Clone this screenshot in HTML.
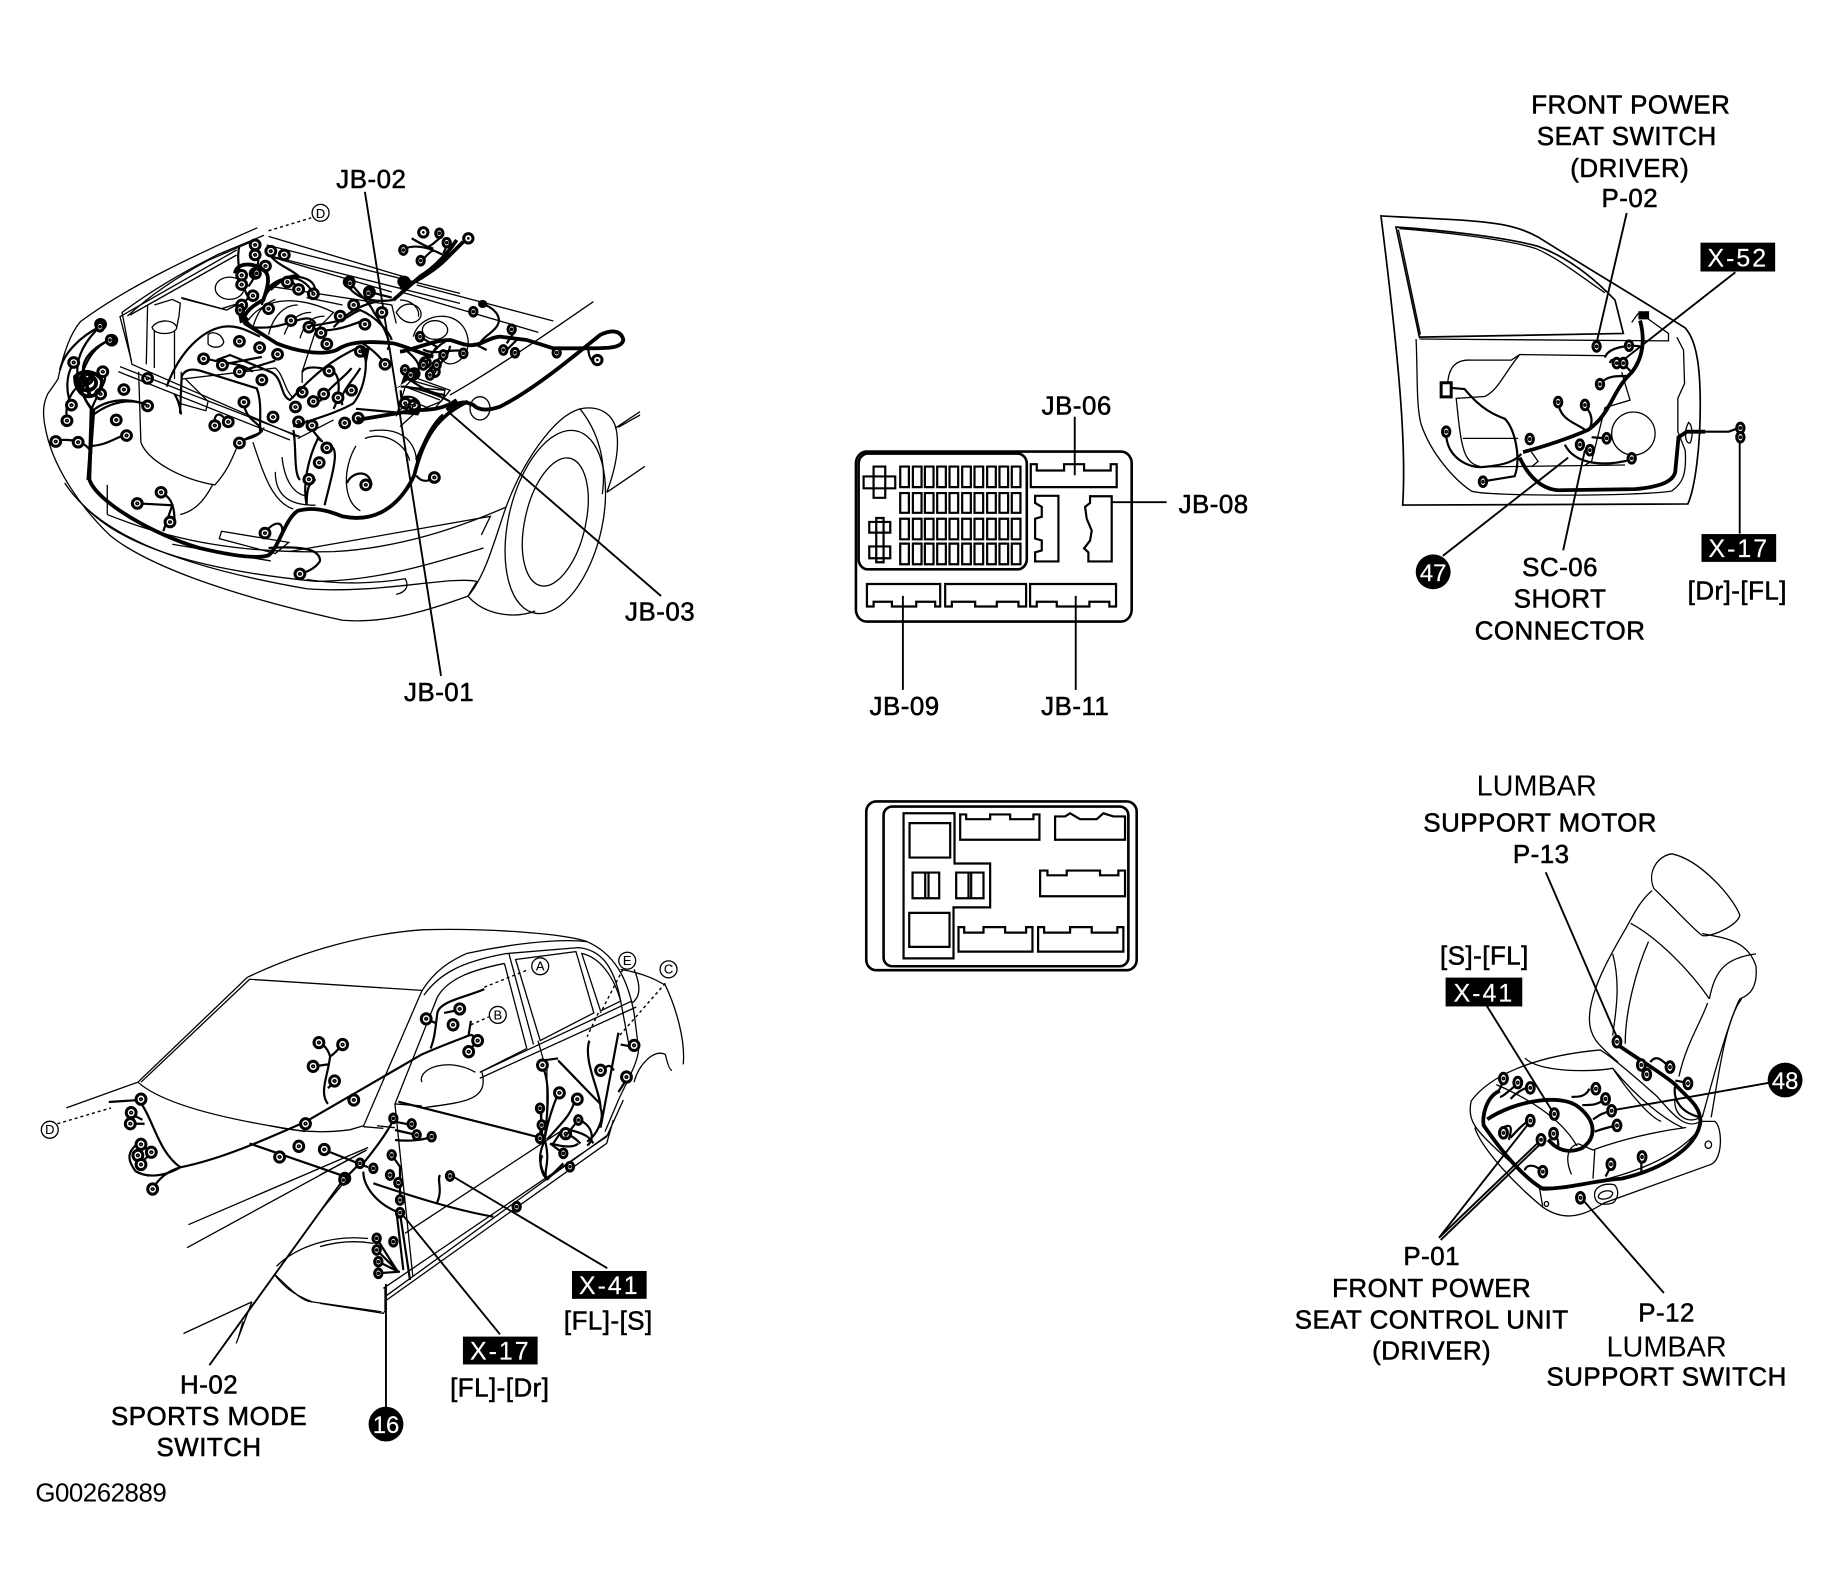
<!DOCTYPE html>
<html><head><meta charset="utf-8"><title>Wiring diagram</title>
<style>
html,body{margin:0;padding:0;background:#fff}
svg{display:block;font-family:"Liberation Sans",sans-serif}
svg *{vector-effect:non-scaling-stroke}
.t{fill:none;stroke:#000;stroke-width:1.3}
.m{fill:none;stroke:#000;stroke-width:2.2}
.w{fill:none;stroke:#000;stroke-width:3.8}
.l{fill:none;stroke:#000;stroke-width:1.9}
.b{fill:none;stroke:#000;stroke-width:2.6}
text{fill:#000;font-size:26px;text-anchor:middle;stroke:#000;stroke-width:.55;letter-spacing:.5px}
.n{stroke-width:0;font-size:29px;letter-spacing:0}
.k{fill:#fff;stroke:#fff;stroke-width:.2;font-size:25px;letter-spacing:2px}
.c{font-size:13px;stroke-width:.1;letter-spacing:0}
.g{font-size:26px;text-anchor:start;stroke-width:0;letter-spacing:0}
.d{fill:none;stroke:#000;stroke-width:1.4;stroke-dasharray:3 3}
</style></head>
<body>
<svg width="1848" height="1578" viewBox="0 0 1848 1578" xmlns="http://www.w3.org/2000/svg">
<defs>
<g id="c"><ellipse cx="0" cy="0" rx="11" ry="13" fill="#fff" stroke="#000" stroke-width="3"/><ellipse cx="0" cy="0" rx="3" ry="3" fill="none" stroke="#000" stroke-width="1.6"/></g>
<g id="r"><ellipse cx="0" cy="0" rx="14" ry="14" fill="#fff" stroke="#000" stroke-width="3"/><ellipse cx="0" cy="0" rx="4" ry="4" fill="#000"/></g>
</defs>
<g transform="scale(.9956 .9945)">

<!-- ============ ENGINE BAY ============ -->
<g transform="translate(20,150) scale(.45,.373)">
<g class="t">
<path d="M530 212C400 280 240 370 135 465C110 500 95 560 85 620L62 660C50 690 50 720 60 770C80 870 140 970 200 1040C280 1120 460 1200 720 1270C820 1280 920 1240 1000 1205C1040 1260 1110 1265 1150 1245"/>
<path d="M545 232L440 285C350 340 290 385 228 440L250 580L620 775"/>
<path d="M525 245L420 300C350 345 290 395 240 450"/>
<path d="M555 235L860 345M560 290L830 385"/>
<path d="M285 420L282 580M300 490L300 590M345 490L345 620"/>
<path d="M295 480C310 455 345 460 350 480C350 500 300 505 295 480Z"/>
<path d="M300 420L340 405L358 415L355 450L350 480"/>
<path d="M360 400L450 430L490 415"/>
<ellipse cx="468" cy="375" rx="32" ry="30"/>
<path d="M265 600L270 790C285 840 360 890 435 905C470 860 480 810 490 790C510 770 540 770 545 750"/>
<path d="M430 905C410 950 390 975 358 985"/>
<path d="M520 790C540 860 560 950 610 970"/>
<path d="M360 600L360 620L570 590C590 610 590 650 610 670L620 650M370 620L420 680L415 705L355 685"/>
<path d="M420 500C430 490 450 495 455 520C450 540 425 535 420 525Z"/>
<path d="M510 460C560 380 650 410 700 440L660 490L630 600L630 630"/>
<path d="M560 370L830 420L840 470M640 400L720 420"/>
<path d="M520 480C530 440 540 420 570 405M555 500C565 450 590 420 620 420M590 500C600 465 620 440 650 440M625 510C635 470 650 450 680 450"/>
<path d="M840 440C860 400 900 420 895 450C890 470 860 480 840 440Z"/>
<path d="M850 640L950 650M840 720L860 640L880 615L960 650L940 680L900 700L840 715"/>
<path d="M195 985L195 905M195 985C350 1060 500 1090 700 1085C850 1075 980 1020 1085 965"/>
<path d="M150 970C250 1090 450 1140 660 1165C800 1165 940 1110 1035 1075"/>
<path d="M100 900C170 1030 330 1120 640 1185C800 1200 960 1150 1020 1165L1000 1205"/>
<path d="M445 1050L450 1030L600 1060L570 1090ZM600 1085L1050 990L1030 1040"/>
<path d="M640 1160C720 1175 800 1170 860 1158C870 1180 860 1195 840 1200"/>
<path d="M340 1065L560 1110"/>
<path d="M780 760C860 745 890 800 885 860M750 800C720 860 720 950 760 975M770 780C810 760 860 790 870 840"/>
<path d="M585 830C590 890 610 930 640 935M570 870C570 950 620 960 660 960"/>
<path d="M1330 750C1320 710 1290 690 1250 700C1190 720 1120 850 1085 965C1060 1050 1040 1150 1000 1205"/>
<ellipse cx="1195" cy="1005" rx="105" ry="250" transform="rotate(10 1195 1005)"/>
<ellipse cx="1195" cy="1005" rx="68" ry="175" transform="rotate(10 1195 1005)"/>
<path d="M1250 700C1290 760 1310 840 1300 930"/>
<path d="M1310 925L1395 855M1330 750C1340 800 1330 860 1310 925"/>
<path d="M620 780L700 730"/>
</g>
<path class="l" d="M770 115L940 1420"/>
<path class="d" d="M555 220L650 185"/>
<path class="w" d="M160 700L155 890C170 950 300 1040 400 1075C470 1095 530 1105 555 1095C580 1070 590 1000 620 975C650 965 680 970 720 990C780 1005 840 980 880 880C900 780 930 720 1000 680"/>
<path class="m" d="M160 720C200 680 250 670 285 690M130 620C120 560 150 510 185 470M135 620C150 560 170 530 200 515M160 700C180 640 200 620 185 600M150 620C110 650 100 690 105 730M155 800C190 800 210 780 235 770M160 820C150 790 120 780 80 785M135 630C140 690 170 700 160 720M120 580C105 600 100 650 115 690"/>
<circle class="w" cx="150" cy="630" r="20"/>
<path class="m" d="M410 560C440 580 490 570 520 600M455 580L540 560M490 600L570 570M360 715C355 680 350 670 345 660M500 680C500 730 540 740 540 760C525 780 500 780 490 790M435 745C430 710 450 705 460 735"/>
<path class="m" d="M630 600C640 580 680 590 700 600C720 620 710 680 700 700M720 690C710 660 740 630 760 590M670 680C690 640 730 610 740 590M640 730C660 780 690 800 665 780C645 830 630 900 640 960M680 800C720 790 700 860 680 960M660 890C650 900 640 900 640 960"/>
<path class="m" d="M730 900C740 870 780 860 785 905M885 880C900 905 920 890 925 885M345 1000C345 950 330 930 310 925M320 1030L340 960L265 955"/>
<path class="m" d="M545 1035C570 1000 590 1000 585 1040M555 1075C620 1070 670 1075 670 1110C660 1130 640 1140 625 1145"/>
<path class="m" d="M490 260C480 310 500 380 510 400C480 440 510 470 520 480C600 490 640 430 660 470M525 250C540 290 530 340 510 370M555 280C570 310 600 320 620 340C590 340 550 370 540 420M560 380C590 340 620 340 640 350C660 360 660 380 660 395M600 350C610 360 620 370 620 380M735 355C750 385 780 410 790 440C820 490 830 530 820 540M780 385L830 400M700 480C730 440 760 420 800 410M650 480C680 500 730 480 770 460M760 520C790 540 810 570 815 580"/>
<path class="m" d="M860 540C890 570 900 590 880 610M900 540C930 560 970 530 1000 550M920 600C950 570 960 540 960 530M900 580C920 550 940 520 950 520"/>
<path class="m" d="M850 650C850 680 860 720 890 710C900 680 880 660 850 670M750 700L890 715M850 640C880 640 930 660 960 680"/>
<use href="#c" x="525" y="258"/><use href="#c" x="525" y="285"/><use href="#c" x="560" y="275"/><use href="#c" x="590" y="285"/>
<use href="#c" x="495" y="340"/><use href="#c" x="525" y="335"/><use href="#c" x="548" y="315"/><use href="#c" x="495" y="365"/>
<use href="#c" x="597" y="358"/><use href="#c" x="622" y="378"/><use href="#c" x="655" y="390"/>
<use href="#c" x="495" y="420"/><use href="#c" x="520" y="395"/><use href="#c" x="555" y="430"/><use href="#c" x="605" y="462"/>
<use href="#c" x="645" y="480"/><use href="#c" x="672" y="495"/><use href="#c" x="685" y="525"/><use href="#c" x="715" y="450"/>
<use href="#c" x="745" y="420"/><use href="#c" x="770" y="472"/><use href="#c" x="735" y="358"/><use href="#c" x="780" y="385"/>
<use href="#c" x="808" y="440"/><use href="#c" x="760" y="545"/><use href="#c" x="815" y="580"/>
<use href="#c" x="905" y="575"/><use href="#c" x="925" y="600"/><use href="#c" x="880" y="605"/>
<use href="#c" x="490" y="518"/><use href="#c" x="535" y="535"/><use href="#c" x="575" y="553"/>
<use href="#c" x="410" y="565"/><use href="#c" x="452" y="582"/><use href="#c" x="490" y="600"/><use href="#c" x="540" y="622"/>
<use href="#c" x="285" y="618"/><use href="#c" x="285" y="692"/><use href="#c" x="232" y="648"/><use href="#c" x="205" y="515"/><use href="#c" x="180" y="472"/>
<use href="#c" x="185" y="600"/><use href="#c" x="150" y="620"/><use href="#c" x="180" y="660"/><use href="#c" x="120" y="575"/>
<use href="#c" x="115" y="690"/><use href="#c" x="105" y="732"/><use href="#c" x="80" y="788"/><use href="#c" x="130" y="790"/>
<use href="#c" x="215" y="730"/><use href="#c" x="238" y="772"/><use href="#c" x="435" y="745"/><use href="#c" x="465" y="735"/>
<use href="#c" x="500" y="682"/><use href="#c" x="565" y="722"/><use href="#c" x="490" y="792"/>
<use href="#c" x="630" y="655"/><use href="#c" x="615" y="695"/><use href="#c" x="690" y="598"/><use href="#c" x="740" y="650"/>
<use href="#c" x="655" y="680"/><use href="#c" x="710" y="670"/><use href="#c" x="678" y="660"/><use href="#c" x="725" y="738"/><use href="#c" x="755" y="725"/>
<use href="#c" x="652" y="745"/><use href="#c" x="622" y="735"/><use href="#c" x="685" y="805"/><use href="#c" x="668" y="845"/><use href="#c" x="645" y="890"/>
<use href="#c" x="772" y="905"/><use href="#c" x="925" y="885"/><use href="#c" x="860" y="685"/><use href="#c" x="880" y="690"/>
<use href="#c" x="315" y="925"/><use href="#c" x="262" y="955"/><use href="#c" x="335" y="1005"/><use href="#c" x="547" y="1035"/><use href="#c" x="625" y="1145"/>
<use href="#c" x="875" y="610"/>
</g>
<circle class="t" cx="322" cy="214" r="8.5"/><text class="c" x="322" y="219">D</text>

<!-- ============ JUNCTION BOX ============ -->
<g transform="translate(844,382.5) scale(.3345,.3975)">
<rect class="b" x="47" y="180" width="828" height="430" rx="32" ry="30"/>
<rect class="b" x="55" y="185" width="505" height="293" rx="28" ry="26"/>
<g class="m">
<path d="M180 218h26v52h-26zM218 218h26v52h-26zM254 218h26v52h-26zM291 218h26v52h-26zM328 218h26v52h-26zM366 218h26v52h-26zM403 218h26v52h-26zM441 218h26v52h-26zM478 218h26v52h-26zM515 218h26v52h-26z"/>
<path d="M180 285h26v50h-26zM218 285h26v50h-26zM254 285h26v50h-26zM291 285h26v50h-26zM328 285h26v50h-26zM366 285h26v50h-26zM403 285h26v50h-26zM441 285h26v50h-26zM478 285h26v50h-26zM515 285h26v50h-26z"/>
<path d="M180 350h26v52h-26zM218 350h26v52h-26zM254 350h26v52h-26zM291 350h26v52h-26zM328 350h26v52h-26zM366 350h26v52h-26zM403 350h26v52h-26zM441 350h26v52h-26zM478 350h26v52h-26zM515 350h26v52h-26z"/>
<path d="M180 413h26v52h-26zM218 413h26v52h-26zM254 413h26v52h-26zM291 413h26v52h-26zM328 413h26v52h-26zM366 413h26v52h-26zM403 413h26v52h-26zM441 413h26v52h-26zM478 413h26v52h-26zM515 413h26v52h-26z"/>
<path d="M70 243h95v30h-95zM100 218h35v79h-35z"/>
<path d="M108 348h22v112h-22zM87 358h63v27h-63zM87 420h63v30h-63z"/>
<path d="M572 270V212H590V228H672V212H732V228H812V212H830V270Z"/>
<path d="M585 292H655V458H585V435L605 430V405L585 400V350L605 345V320L585 310Z"/>
<path d="M750 293H815V458H745V435L732 425L750 405L755 380L740 350L735 320L750 310Z"/>
<path d="M80 515H300V572H285V560H228V572H155V560H100V572H80Z"/>
<path d="M315 515H558V572H535V560H470V572H405V560H335V572H315Z"/>
<path d="M570 515H828V572H808V560H748V572H650V560H590V572H570Z"/>
</g>
<path class="l" d="M704 92V240M815 308H980M188 545V783M707 545V783"/>
<rect class="b" x="78" y="1065" width="812" height="427" rx="30" ry="26"/>
<rect class="b" x="130" y="1078" width="735" height="404" rx="26" ry="22"/>
<g class="m">
<path d="M190 1095H343V1222H450V1333H340V1462H190Z"/>
<rect x="208" y="1120" width="122" height="87"/><rect x="207" y="1347" width="121" height="86"/>
<rect x="217" y="1245" width="80" height="65"/><path d="M255 1245V1310M265 1245V1310"/>
<rect x="348" y="1245" width="82" height="65"/><path d="M385 1245V1310M393 1245V1310"/>
<path d="M360 1162V1098H378V1110H450V1098H510V1110H580V1098H598V1162Z"/>
<path d="M645 1162V1103H675L690 1095L720 1110H770L790 1095L820 1103H855V1162Z"/>
<path d="M600 1305V1240H622V1252H680V1240H780V1252H835V1240H855V1305Z"/>
<path d="M355 1445V1383H372V1397H430V1383H495V1397H558V1383H577V1445Z"/>
<path d="M594 1445V1383H612V1397H690V1383H755V1397H832V1383H850V1445Z"/>
</g>
</g>

<!-- ============ DOOR ============ -->
<g transform="translate(1377,80) scale(.3358,.3727)">
<g class="t">
<path d="M30 368L250 378C380 385 440 395 500 425C650 510 800 590 940 670C980 710 985 800 985 880C985 990 970 1100 948 1145L95 1148C105 1000 90 800 30 368Z" stroke-width="1.7"/>
<path d="M75 398L145 695L755 685L730 595C640 510 560 470 500 450C400 425 200 405 75 398Z" stroke-width="1.7"/>
<path d="M82 405L148 688M85 402C200 410 400 430 490 455C560 480 640 540 700 575"/>
<path d="M145 700L890 705L890 685L820 640M780 655L800 630"/>
<path d="M135 700C140 800 135 880 150 930C180 1010 250 1080 300 1110C340 1125 800 1125 900 1110C930 1090 945 1070 940 1000L918 950V860L938 820L935 730L915 695"/>
<path d="M230 815C235 770 260 755 300 757L420 757L445 742L700 745M445 742C400 790 380 840 340 855L255 860C260 900 265 960 275 990C285 1030 310 1045 340 1045L760 1040"/>
<path d="M275 968H440M750 790L775 865L700 885L660 1030L640 1040"/>
<ellipse cx="785" cy="955" rx="65" ry="58"/>
<path d="M950 925C935 950 940 985 955 980C965 960 960 930 950 925Z"/>
<path d="M480 1005L500 1030L480 1045"/>
</g>
<path class="l" d="M215 1285L590 1020M575 1270L640 1000M765 360L675 710M1090 520L750 760M1103 975V1225"/>
<path class="w" d="M445 1020C470 1070 510 1105 560 1108L790 1105C850 1100 900 1090 910 1060L920 965L945 950L1000 950" stroke-width="4.8"/>
<path class="m" d="M1000 950L1070 950L1100 940"/>
<path class="w" d="M455 1005C520 990 600 965 650 945C720 900 720 840 780 790C815 750 820 700 805 650" />
<path class="m" d="M225 960C230 1020 290 1050 340 1045C400 1040 430 1030 450 1010M215 830L280 835C330 890 370 905 400 915C430 940 450 1020 430 1070L330 1085M560 875C570 920 610 925 640 945M640 880C660 900 665 920 655 940M685 825C700 795 750 800 775 800M700 750C710 720 780 715 805 720M715 765C720 740 760 770 780 790M580 985C610 1040 700 1045 780 1025M660 965L705 968"/>
<rect x="210" y="818" width="30" height="38" fill="#fff" stroke="#000" stroke-width="3"/>
<use href="#c" x="225" y="950"/><use href="#c" x="335" y="1085"/><use href="#c" x="685" y="822"/>
<use href="#c" x="560" y="870"/><use href="#c" x="640" y="878"/><use href="#c" x="475" y="970"/><use href="#c" x="780" y="1022"/>
<use href="#c" x="705" y="968"/><use href="#c" x="675" y="720"/><use href="#c" x="772" y="718"/><use href="#c" x="735" y="765"/><use href="#c" x="755" y="765"/>
<use href="#c" x="625" y="985"/><use href="#c" x="655" y="1000"/><use href="#c" x="1105" y="940"/><use href="#c" x="1105" y="965"/>
<rect x="800" y="625" width="32" height="22" fill="#000"/>
</g>

<!-- ============ SEAT ============ -->
<g transform="translate(1287,762) scale(.3598,.4108)">
<g class="t">
<path d="M1040 320C1020 280 1050 240 1090 235C1170 250 1260 340 1280 385C1275 410 1200 440 1175 435C1150 420 1100 370 1040 320Z"/>
<path d="M1035 325C1000 350 980 390 960 420C920 480 860 570 860 640C860 680 880 700 940 745"/>
<path d="M975 405C1050 440 1140 520 1195 590M1175 430C1220 440 1300 440 1325 510C1330 560 1310 580 1280 590C1250 640 1200 800 1175 880"/>
<path d="M1025 450C990 520 960 620 960 700M925 480C950 560 930 640 925 680M1195 590C1210 520 1240 490 1325 480M1285 590C1240 640 1220 780 1200 880M1190 600C1170 650 1130 700 1110 780"/>
<path d="M530 840C580 780 700 730 890 715C920 730 1000 790 1050 830C1100 880 1130 910 1170 890L1210 890C1230 900 1235 980 1200 995L900 1090C830 1130 780 1130 730 1100L720 1050C640 990 560 930 540 900C525 880 525 860 530 840Z"/>
<path d="M680 735C720 770 860 770 925 760C1000 840 1080 890 1120 905M925 760C970 820 1030 880 1060 890M810 1020C790 980 800 950 830 945L870 960C900 950 1000 920 1130 905M875 960L870 1030"/>
<path d="M540 905C560 960 660 1050 730 1100M720 1050C820 1060 1080 1010 1165 910M600 800C680 830 780 880 825 950M1100 830C1090 870 1130 900 1170 880"/>
<circle cx="1192" cy="947" r="9"/><circle cx="740" cy="1092" r="6"/>
<path d="M875 1075C870 1050 900 1040 930 1045C945 1060 940 1080 925 1090C900 1095 880 1095 875 1075ZM885 1075C885 1060 920 1055 925 1065C925 1080 890 1085 885 1075Z"/>
</g>
<path class="l" d="M738 280L935 680M572 605L760 870M440 1175L695 890M440 1175L725 935M445 1180L720 948M1068 1310L845 1085M1140 830L1365 795M930 862L1140 830"/>
<path class="w" d="M575 885C650 840 780 820 830 855C880 890 880 930 840 955C800 970 770 960 745 935"/>
<path class="w" d="M610 815C570 830 560 880 565 900C620 970 680 1030 730 1055C800 1055 870 1035 950 1030C1050 1010 1160 960 1170 890C1170 850 1130 830 1100 800C1060 770 1000 740 935 700"/>
<path class="m" d="M1100 800C1090 840 1120 870 1170 880M1030 745C1050 720 1070 750 1090 760M1100 790L1130 795M860 810C850 830 830 830 810 830M905 835C880 850 870 850 840 850M920 865C890 870 880 880 870 885M935 900C910 905 890 910 875 915M620 905C650 890 640 920 635 935M695 888C680 890 650 920 640 930M725 1010C700 990 680 1000 680 1010M760 920C775 930 775 950 770 955M615 790C620 810 590 830 585 830M665 795C640 810 620 830 610 830M695 805C670 810 650 825 640 835M920 1000L905 1025M1005 980L1005 1020"/>
<use href="#c" x="620" y="785"/><use href="#c" x="660" y="795"/><use href="#c" x="695" y="808"/><use href="#c" x="620" y="918"/>
<use href="#c" x="695" y="888"/><use href="#c" x="762" y="872"/><use href="#c" x="725" y="935"/><use href="#c" x="760" y="920"/><use href="#c" x="730" y="1013"/>
<use href="#c" x="878" y="810"/><use href="#c" x="905" y="835"/><use href="#c" x="922" y="864"/><use href="#c" x="937" y="900"/>
<use href="#c" x="920" y="995"/><use href="#c" x="1007" y="977"/><use href="#c" x="835" y="1077"/>
<use href="#c" x="937" y="695"/><use href="#c" x="1005" y="752"/><use href="#c" x="1020" y="775"/><use href="#c" x="1085" y="757"/><use href="#c" x="1135" y="797"/>
</g>

<!-- ============ CAR ============ -->
<g transform="translate(19.5,923) scale(.449,.398)">
<g class="t">
<path d="M105 480L265 415L510 150C640 80 780 40 900 30C1050 25 1220 40 1270 60C1330 90 1360 150 1375 240L1385 330C1385 360 1365 400 1340 460L1310 540"/>
<path d="M655 970C610 950 590 930 570 900"/>
<path d="M272 415L515 155L900 183M265 415C300 450 380 490 560 525C620 540 680 545 740 535L770 525L900 185C930 130 970 105 1000 90C1080 70 1200 50 1270 60"/>
<path d="M905 195C940 140 990 110 1090 90L1250 75C1300 80 1330 120 1345 210L1365 330L1375 320"/>
<path d="M1085 115L1135 330L1030 390M1085 115C1020 130 960 150 935 200L840 470M1095 90L1150 320"/>
<path d="M1110 105L1245 85L1285 240L1165 310Z"/>
<path d="M1258 90C1300 100 1330 150 1345 210L1300 235Z"/>
<path d="M1030 405L1380 225M1030 390L1370 210"/>
<path d="M378 775L780 580M375 833L770 590M367 1050L520 970M520 970L485 1075M500 1020L490 1060"/>
<path d="M575 880C620 830 700 800 780 810M570 900C600 930 630 970 655 970L810 995"/>
<path d="M1345 130C1400 140 1430 160 1445 170C1470 230 1490 310 1485 370M1375 415C1385 370 1420 330 1445 345C1450 370 1455 385 1460 385M1375 130C1390 170 1390 200 1370 215"/>
<path d="M1035 390C1050 460 1000 465 900 480M900 415C890 380 960 350 1020 390"/>
<path d="M840 470L880 905M800 525L840 530M560 525L640 540M840 470L900 475"/>
<path d="M1160 310L1175 370M1180 380L1180 520"/>
</g>
<path class="l" d="M425 1130L725 660M1075 1052L850 740M1315 885L965 650M820 925V1250"/>
<path class="d" d="M85 520L205 480M1040 175L1140 130M1010 270L1050 250M1295 240L1270 300M1445 165L1340 300M1350 130L1300 240"/>
<path class="m" d="M360 630C450 610 550 560 640 515L900 345C950 320 1000 300 1010 295M515 570L720 650M680 585L780 630"/>
<path class="m" d="M270 465C300 510 310 590 360 630C330 650 290 660 260 640C240 610 240 590 270 565M200 465L270 460M360 630C330 640 310 660 298 685M250 495L275 510M250 520L280 520M1040 180C1000 200 940 210 935 240C930 280 930 300 920 330M910 255L930 265M950 240L985 232M1010 295C1030 305 1020 320 1005 335M1010 260L1005 295"/>
<path class="m" d="M690 470C670 440 690 400 695 350C690 330 680 320 670 315M695 350C710 340 715 325 725 320M660 375L690 370M705 415L690 430"/>
<path class="m" d="M1170 375C1190 420 1180 500 1175 560C1190 620 1170 640 1180 660M1170 600C1160 620 1170 650 1180 660M1165 470L1170 560M1205 445C1195 470 1180 520 1175 560M1240 470C1230 500 1220 510 1180 560M1205 360C1240 400 1290 460 1300 470M1170 360L1205 355M1275 310C1260 360 1300 440 1300 480C1310 510 1290 550 1270 565M1250 510C1280 520 1290 560 1270 575M1220 545C1240 550 1250 565 1255 570M1340 290L1300 530M1300 385C1320 370 1320 370 1330 385M1345 320L1370 325M1360 405L1340 440M1190 570C1220 580 1240 580 1250 570"/>
<path class="m" d="M270 575L300 590M270 620L300 590"/>
<use href="#c" x="272" y="458"/><use href="#c" x="250" y="492"/><use href="#c" x="248" y="520"/><use href="#c" x="272" y="572"/>
<use href="#c" x="295" y="592"/><use href="#c" x="265" y="600"/><use href="#c" x="272" y="623"/><use href="#c" x="298" y="685"/>
<use href="#c" x="670" y="315"/><use href="#c" x="723" y="320"/><use href="#c" x="657" y="375"/><use href="#c" x="705" y="412"/>
<use href="#c" x="748" y="460"/><use href="#c" x="640" y="520"/><use href="#c" x="625" y="577"/><use href="#c" x="582" y="604"/>
<use href="#c" x="682" y="585"/><use href="#c" x="728" y="658"/>
<use href="#c" x="1208" y="442"/><use href="#c" x="1248" y="458"/><use href="#c" x="1222" y="545"/>
<use href="#c" x="1170" y="372"/><use href="#c" x="1300" y="385"/><use href="#c" x="1358" y="402"/><use href="#c" x="1375" y="322"/>
<use href="#c" x="910" y="255"/><use href="#c" x="985" y="230"/><use href="#c" x="970" y="270"/><use href="#c" x="1025" y="310"/><use href="#c" x="1005" y="338"/>
</g>
<g class="t">
<circle cx="542.6" cy="971.6" r="8.5"/><circle cx="500" cy="1020.5" r="8.5"/><circle cx="671.5" cy="974.7" r="8.5"/><circle cx="630" cy="966" r="8.5"/><circle cx="50" cy="1136" r="8.5"/>
</g>
<text class="c" x="542.6" y="976">A</text><text class="c" x="500" y="1025">B</text><text class="c" x="671.5" y="979">C</text><text class="c" x="630" y="970.5">E</text><text class="c" x="50" y="1140.5">D</text>

<!-- ============ LABELS ============ -->
<text x="373" y="189">JB-02</text>
<text x="663" y="624">JB-03</text>
<text x="441" y="705">JB-01</text>
<text x="1081.5" y="417">JB-06</text>
<text x="1219" y="516">JB-08</text>
<text x="908.6" y="719">JB-09</text>
<text x="1080" y="719">JB-11</text>

<text x="1638" y="114">FRONT POWER</text>
<text x="1634" y="146">SEAT SWITCH</text>
<text x="1637" y="178">(DRIVER)</text>
<text x="1637" y="208">P-02</text>
<rect x="1708" y="244" width="75" height="29" fill="#000"/><text class="k" x="1745.5" y="268">X-52</text>
<rect x="1709" y="537" width="75" height="28" fill="#000"/><text class="k" x="1746.5" y="560">X-17</text>
<text x="1745" y="603">[Dr]-[FL]</text>
<text x="1567" y="579">SC-06</text>
<text x="1567" y="611">SHORT</text>
<text x="1567" y="643">CONNECTOR</text>
<circle cx="1439.5" cy="575" r="17.5" fill="#000"/><text class="k" x="1439.5" y="584" style="font-size:24px;letter-spacing:0">47</text>

<text class="n" x="1543.5" y="800">LUMBAR</text>
<text x="1547" y="836">SUPPORT MOTOR</text>
<text x="1548" y="868">P-13</text>
<text x="1491" y="970">[S]-[FL]</text>
<rect x="1452" y="983" width="77" height="29" fill="#000"/><text class="k" x="1490.5" y="1007">X-41</text>
<circle cx="1793" cy="1086" r="17.5" fill="#000"/><text class="k" x="1793" y="1095" style="font-size:24px;letter-spacing:0">48</text>
<text x="1438" y="1272">P-01</text>
<text x="1438" y="1304">FRONT POWER</text>
<text x="1438" y="1336">SEAT CONTROL UNIT</text>
<text x="1438" y="1367">(DRIVER)</text>
<text x="1674" y="1329">P-12</text>
<text class="n" x="1674" y="1364">LUMBAR</text>
<text x="1674" y="1393">SUPPORT SWITCH</text>

<rect x="574.5" y="1278" width="75" height="28" fill="#000"/><text class="k" x="612" y="1301">X-41</text>
<text x="611" y="1337">[FL]-[S]</text>
<rect x="465" y="1344" width="75" height="28" fill="#000"/><text class="k" x="502.5" y="1367">X-17</text>
<text x="502" y="1404">[FL]-[Dr]</text>
<text x="210" y="1401">H-02</text>
<text x="210" y="1433">SPORTS MODE</text>
<text x="210" y="1464">SWITCH</text>
<circle cx="387.7" cy="1432" r="17.5" fill="#000"/><text class="k" x="387.7" y="1441" style="font-size:24px;letter-spacing:0">16</text>
<text class="g" x="35.5" y="1510" textLength="132">G00262889</text>
</g>

<!-- true-coordinate detail: engine left/centre -->
<g transform="translate(60,240) scale(.33333)">
<g class="t">
<path d="M530 30L180 230L215 365M530 45L210 225M365 175L500 210L530 195"/>
<path d="M180 380L720 590M175 395L690 600"/>
<path d="M1200 160L620 15M1200 190L640 50"/>
</g>
<path class="w" d="M525 100C530 60 600 70 620 100C630 120 620 150 610 180C590 190 540 220 555 250L650 310C700 330 780 350 830 330C860 310 900 300 1000 310C1040 320 1080 340 1120 350"/>
<path class="m" d="M620 150C650 110 720 90 760 160M740 260C790 250 840 250 880 220L900 210C950 230 990 280 995 300M860 130C880 170 930 190 1000 180"/>
<path class="w" d="M1000 180L1080 110C1130 80 1170 30 1190 0"/>
<path class="m" d="M320 440C360 330 430 270 490 260C530 255 560 270 600 290M360 520L365 410C375 385 400 385 430 395L590 445C605 480 600 530 600 575M470 360L510 345L630 395C670 410 660 470 690 480C740 430 790 370 900 320C930 340 920 440 880 490C830 520 750 540 700 560M700 570C710 620 700 700 720 720"/>
<path class="m" d="M0 390C10 340 60 290 120 260M70 400C60 350 120 310 150 300M100 510C140 480 200 470 260 495M100 510C70 480 60 440 60 420"/>
<path class="w" d="M890 540L1010 520L1070 510C1100 510 1150 510 1190 480M100 510L85 720"/>
<path class="w" d="M45 410C70 385 110 395 125 420C130 450 100 480 70 465C50 450 45 430 45 410ZM70 400L90 470M100 400L60 450"/>
<path d="M1000 450L1060 410L1040 380L1020 440Z M900 330L930 320L920 370Z M530 200L570 240L540 250Z" fill="#000"/>
<use href="#c" x="120" y="260"/><use href="#c" x="150" y="300"/><use href="#c" x="540" y="210"/><use href="#c" x="590" y="100"/>
<use href="#c" x="870" y="130"/><use href="#c" x="925" y="160"/><use href="#c" x="1035" y="390"/>
</g>

<!-- true-coordinate detail: engine right -->
<g transform="translate(400,220) scale(.33333)">
<g class="t">
<path d="M50 195L460 303M0 215L415 337M580 245C500 300 300 440 150 525"/>
<ellipse cx="240" cy="565" rx="30" ry="35"/>
<ellipse cx="105" cy="330" rx="38" ry="28"/>
<path d="M40 350C60 270 200 260 205 370C200 430 140 445 130 420"/>
<path d="M0 240C40 240 60 270 55 290"/>
<path d="M30 480L135 510L130 535L100 570L0 530M15 500L120 540M0 620L55 570"/>
<path d="M645 625L720 575M655 622L720 585"/>
</g>
<path class="l" d="M150 580L783 1128"/>
<path class="w" d="M140 570C180 540 200 545 220 555C240 575 270 570 300 560C400 510 520 410 600 345C640 325 665 335 670 360C665 385 620 385 570 385"/>
<path class="w" d="M205 375C240 380 270 350 300 350L380 360L460 385L570 385M0 395C40 390 100 360 150 360C170 365 190 375 205 375"/>
<path class="w" d="M130 585C90 620 70 680 50 720M0 205C40 190 90 160 130 125L190 65"/>
<path class="m" d="M15 85C60 70 100 90 130 105M35 55C60 70 90 85 100 85M125 50C110 60 100 75 85 80M100 90C85 100 75 110 70 120M130 100C135 90 140 80 140 70M240 250C280 260 310 290 290 320C270 345 250 350 240 370M220 370L260 390M320 390L350 360M340 340L320 370M565 385C565 410 580 440 595 425M60 350L110 380L70 440M130 405L100 430L90 465M135 525C90 520 60 500 30 480"/>
<path class="t" d="M0 570C30 540 50 555 30 575"/>
<use href="#r" x="70" y="37"/><use href="#c" x="118" y="40"/><use href="#c" x="140" y="68"/><use href="#r" x="205" y="55"/>
<use href="#c" x="62" y="122"/><use href="#c" x="10" y="90"/><use href="#c" x="220" y="275"/><use href="#c" x="335" y="328"/>
<use href="#c" x="190" y="400"/><use href="#c" x="130" y="405"/><use href="#c" x="60" y="350"/><use href="#c" x="90" y="465"/><use href="#c" x="110" y="435"/><use href="#c" x="70" y="435"/>
<use href="#r" x="592" y="420"/><use href="#c" x="470" y="398"/><use href="#c" x="345" y="398"/><use href="#c" x="310" y="390"/><use href="#c" x="32" y="465"/>
<ellipse cx="12" cy="185" rx="20" ry="18" fill="#000"/><ellipse cx="248" cy="252" rx="14" ry="12" fill="#000"/>
</g>

<!-- true-coordinate detail: car side -->
<g transform="translate(320,1100) scale(.33333)">
<g class="t">
<path d="M190 565L860 110L910 0M200 600L860 130L880 60M195 590L870 100M195 630V560M255 400L720 95M0 440C50 425 100 420 160 430M0 610L190 640L200 625"/>
<path d="M0 335L70 250M0 225L140 150M130 80L190 85"/>
</g>
<path class="m" d="M235 5L650 110M160 250C250 280 400 330 520 350" stroke-width="3"/>
<path class="m" d="M360 225C350 240 370 270 350 310M130 215C130 260 170 310 230 335M240 340L270 540M230 340L250 510M220 60C200 100 170 140 130 190M225 65L275 75M225 90L290 105M225 120C270 125 310 120 335 110M215 165L240 200L240 290M170 415L230 510M170 450L235 515M175 485L235 515M170 520L240 515M120 190L70 240M660 115L665 30M675 120C650 170 660 200 680 240M690 130L730 160M735 110L775 60M750 90C790 100 810 110 820 130M700 130L720 100M730 190L680 240"/>
<use href="#c" x="220" y="55"/><use href="#c" x="275" y="72"/><use href="#c" x="290" y="105"/><use href="#c" x="335" y="110"/>
<use href="#c" x="215" y="165"/><use href="#c" x="160" y="205"/><use href="#c" x="210" y="225"/><use href="#c" x="235" y="248"/>
<use href="#c" x="240" y="300"/><use href="#c" x="240" y="338"/><use href="#c" x="170" y="415"/><use href="#c" x="220" y="425"/>
<use href="#c" x="170" y="450"/><use href="#c" x="175" y="485"/><use href="#c" x="175" y="520"/>
<use href="#c" x="70" y="240"/><use href="#c" x="120" y="190"/><use href="#c" x="390" y="228"/>
<use href="#c" x="590" y="320"/><use href="#c" x="750" y="200"/><use href="#c" x="775" y="60"/>
<use href="#c" x="660" y="25"/><use href="#c" x="665" y="75"/><use href="#c" x="660" y="115"/><use href="#c" x="730" y="160"/>
</g>
</svg>
</body></html>
